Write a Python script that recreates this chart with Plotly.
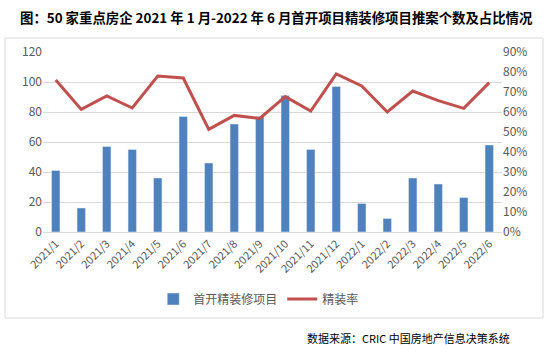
import plotly.graph_objects as go

months = ["2021/1", "2021/2", "2021/3", "2021/4", "2021/5", "2021/6", "2021/7", "2021/8", "2021/9",
          "2021/10", "2021/11", "2021/12", "2022/1", "2022/2", "2022/3", "2022/4", "2022/5", "2022/6"]
projects = [41, 16, 57, 55, 36, 77, 46, 72, 77, 91, 55, 97, 19, 9, 36, 32, 23, 58]
ratio = [0.76, 0.613, 0.68, 0.62, 0.78, 0.77, 0.513, 0.583, 0.568, 0.677, 0.605, 0.79,
         0.73, 0.60, 0.705, 0.657, 0.618, 0.747]

FONT = "Noto Sans CJK SC"
GRAY = "#595959"

fig = go.Figure()
fig.add_trace(go.Bar(x=months, y=projects, name="首开精装修项目", marker_color="#4F81BD",
                     width=0.33, yaxis="y"))
fig.add_trace(go.Scatter(x=months, y=ratio, name="精装率", mode="lines",
                         line=dict(color="#C0504D", width=3), yaxis="y2"))

L, R, T, B = 43, 502, 52, 232
W, H = 552, 355

def px(x):
    return (x - L) / (R - L)

def py(y):
    return (B - y) / (B - T)

fig.update_layout(
    width=W, height=H,
    margin=dict(l=L, r=W - R, t=T, b=H - B),
    paper_bgcolor="white", plot_bgcolor="white",
    font=dict(family=FONT, color=GRAY, size=12),
    showlegend=True,
    legend=dict(orientation="h", x=0.47, xanchor="center", y=py(299), yanchor="middle",
                font=dict(size=12, color=GRAY, family=FONT), itemwidth=30),
    xaxis=dict(type="category", tickangle=-45, showgrid=False, showline=True,
               linecolor="#D9D9D9", linewidth=1, ticks="", tickfont=dict(size=11, color=GRAY)),
    yaxis=dict(range=[0, 120], dtick=20, showgrid=True, gridcolor="#D9D9D9", gridwidth=1,
               zeroline=False, showline=False, ticks="", tickfont=dict(size=12, color=GRAY)),
    yaxis2=dict(range=[0, 0.9], dtick=0.1, tickformat=".0%", overlaying="y", side="right",
                showgrid=False, zeroline=False, showline=False, ticks="",
                tickfont=dict(size=12, color=GRAY)),
    shapes=[dict(type="rect", xref="paper", yref="paper",
                 x0=px(5), x1=px(543), y0=py(318), y1=py(38),
                 line=dict(color="#D9D9D9", width=1), fillcolor="rgba(0,0,0,0)", layer="below")],
    annotations=[
        dict(text="<b>图：50 家重点房企 2021 年 1 月-2022 年 6 月首开项目精装修项目推案个数及占比情况</b>",
             xref="paper", yref="paper", x=px(276), y=py(17), xanchor="center", yanchor="middle",
             showarrow=False, font=dict(size=13.4, color="black", family=FONT)),
        dict(text="数据来源：CRIC 中国房地产信息决策系统",
             xref="paper", yref="paper", x=px(512), y=py(338), xanchor="right", yanchor="middle",
             showarrow=False, font=dict(size=11, color="black", family=FONT)),
    ],
)

fig.write_html("out.html", config={"displayModeBar": False},
               post_script="document.body.style.margin='0';")
